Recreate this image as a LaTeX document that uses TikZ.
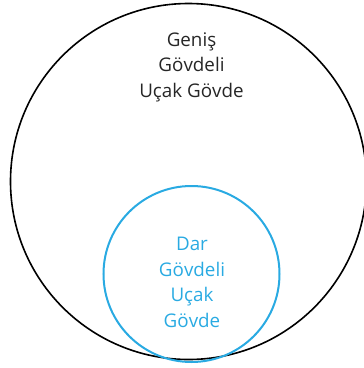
\documentclass[tikz,border=0pt]{standalone}
\usepackage{fontspec}
\setmainfont{Open Sans}
\definecolor{skyb}{RGB}{41,170,226}
\begin{document}
\begin{tikzpicture}[x=1pt,y=-1pt,
  lbl/.style={align=center,font=\fontsize{18.8}{25.5}\selectfont,inner sep=0pt}]
\useasboundingbox (0,0) rectangle (364,368);
\node[draw=black,line width=1.6pt,circle,minimum size=356pt,inner sep=0pt] (big) at (188.5,181.5) {};
\node[draw=skyb,line width=2pt,circle,minimum size=176pt,inner sep=0pt] (small) at (191.5,274) {};
\node[lbl,text=black!85] (bt) at (191.5,67) {Geniş\\Gövdeli\\Uçak Gövde};
\node[lbl,text=skyb] (st) at (192,282.5) {Dar\\Gövdeli\\Uçak\\Gövde};
\end{tikzpicture}
\end{document}
